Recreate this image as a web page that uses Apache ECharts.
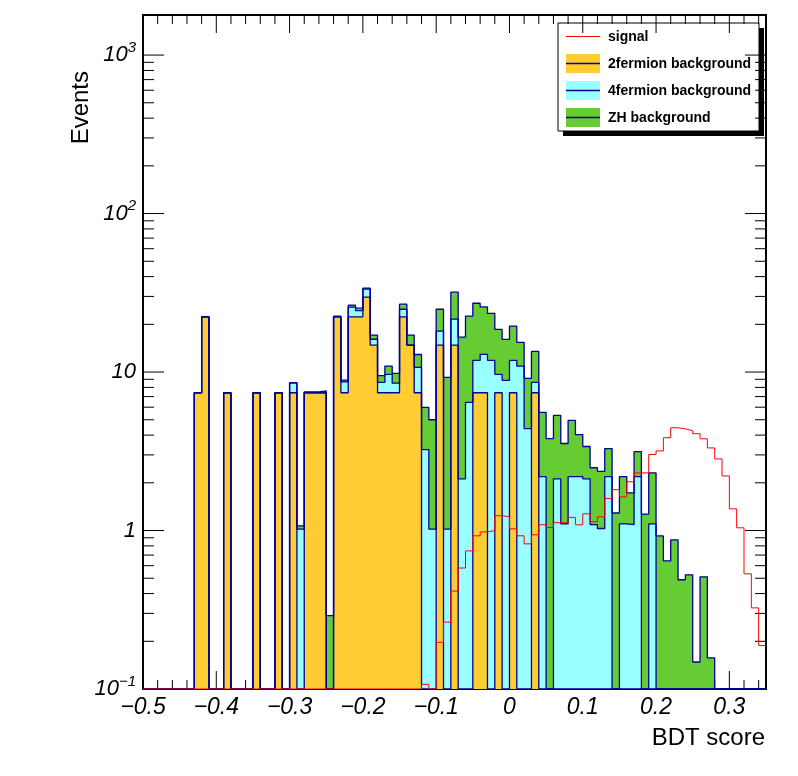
<!DOCTYPE html>
<html><head><meta charset="utf-8">
<script src="https://cdn.jsdelivr.net/npm/echarts@6/dist/echarts.min.js"></script>
<style>html,body{margin:0;padding:0;background:#fff}#chart{width:798px;height:776px}</style>
</head><body><div id="chart"></div>
<script>
// ---- binning (BDT score) ----
const BIN_LOW = -0.5;
const BIN_WIDTH = 0.01;
const N_BINS = 85;

// ---- series values per bin (events) ----
const twoFermion = [
  0,0,0,0,0,0,0,7.4,22.3,0,
  0,7.4,0,0,0,7.4,0,0,7.4,0,
  7.4,0,7.4,7.4,7.4,0,22.3,7.4,22.3,22.3,
  29.7,14.8,7.4,7.4,7.4,22.3,14.8,7.4,0,0,
  14.8,0,14.8,0,0,7.4,7.4,0,7.4,0,
  7.4,0,0,7.4,0,0,0,0,0,0,
  0,0,0,0,0,0,0,0,0,0,
  0,0,0,0,0,0,0,0,0,0,
  0,0,0,0,0
];
const fourFermion = [
  0,0,0,0,0,0,0,0,0,0,
  0,0,0,0,0,0,0,0,0,0,
  1.15,1.02,0,0,0,0,0,1.28,3.4,2.1,
  3.7,1.3,1.2,2.27,1.1,2.6,0,3.3,3.24,1.02,
  3.3,1.02,6.8,2.12,6.43,4.46,5.54,11.86,2.27,8.86,
  4.46,10.9,4.4,1.2,2.19,0,2.12,1.1,2.19,2.19,
  2.12,1.09,1.03,2.19,0,1.1,1.09,2.19,0,1.1,
  0,0,0,0,0,0,0,0,0,0,
  0,0,0,0,0
];
const zhBackground = [
  0,0,0,0,0,0,0,0,0,0,
  0,0,0,0,0,0,0,0,0,0,
  0,0.05,0.1,0.1,0.2,0.29,0.2,0.22,0.7,0.9,
  0.4,1.0,0.9,1.23,1.3,1.9,2.3,2.2,2.74,3.98,
  6.8,8.23,10.3,14.5,16.1,15.3,12.8,11.6,8.9,7.2,
  7.6,4.5,4.72,4.9,3.37,3.8,3.2,2.44,2.76,1.84,
  1.27,1.4,1.33,1.1,1.29,1.09,0.64,0.96,1.27,1.21,
  0.925,0.644,0.874,0.489,0.525,0.148,0.51,0.157,0,0,
  0,0,0,0,0
];
const signal = [
  0,0,0,0,0,0,0,0,0,0,
  0,0,0,0,0,0,0,0,0,0,
  0,0,0,0,0,0,0,0,0,0,
  0,0,0,0,0,0,0,0,0.107,0,
  0.197,0.264,0.415,0.58,0.744,0.926,0.98,1.0,1.24,1.22,
  1.025,0.926,0.824,0.94,1.087,1.045,1.12,1.12,1.21,1.087,
  1.275,1.135,1.22,1.59,1.81,1.63,2.03,2.31,2.31,3.02,
  3.18,3.85,4.45,4.38,4.26,4.08,3.79,3.32,2.83,2.21,
  1.37,1.04,0.533,0.325,0.188
];

// ---- axes ----
const X_MIN = -0.5, X_MAX = 0.35, X_STEP = 0.1;
const Y_MIN = 0.1, Y_MAX = 1790;
const xTickLabels = ['\u22120.5','\u22120.4','\u22120.3','\u22120.2','\u22120.1','0','0.1','0.2','0.3'];
const yTickExponents = [-1, 0, 1, 2, 3];
const legendLabels = ['signal', '2fermion background', '4fermion background', 'ZH background'];

const C_YELLOW = '#ffcc33', C_CYAN = '#99ffff', C_GREEN = '#66cc33', C_BLUE = '#000099', C_RED = '#ff0000';
const FONT = '"Liberation Sans", Arial, Helvetica, sans-serif';

function edge(i) { return BIN_LOW + i * BIN_WIDTH; }
function stepData(vals) {
  const pts = vals.map((v, i) => [edge(i), Math.max(v, Y_MIN)]);
  pts.push([edge(N_BINS), Math.max(vals[N_BINS - 1], Y_MIN)]);
  return pts;
}
const cum1 = twoFermion.slice();
const cum2 = twoFermion.map((v, i) => v + fourFermion[i]);
const cum3 = cum2.map((v, i) => v + zhBackground[i]);

// tick descriptors: [x, y, kind]  kind 0 x-major, 1 x-minor, 2 y-major, 3 y-minor, 4 frame
const tickItems = [[0, 1, 4]];
for (let k = 0; k <= 42; k++) {
  const v = X_MIN + 0.02 * k;
  tickItems.push([v, 1, k % 5 === 0 ? 0 : 1]);
}
yTickExponents.forEach(e => {
  const base = Math.pow(10, e);
  tickItems.push([X_MIN, base, 2]);
  for (let m = 2; m <= 9; m++) {
    if (m * base <= Y_MAX) tickItems.push([X_MIN, m * base, 3]);
  }
});

function histSeries(name, vals, fill) {
  return {
    name, type: 'line', step: 'end', data: stepData(vals),
    symbol: 'none', showSymbol: false, silent: true, animation: false,
    lineStyle: { color: C_BLUE, width: 1.3 },
    areaStyle: fill ? { color: fill, opacity: 1, origin: 'start' } : undefined
  };
}

const chart = echarts.init(document.getElementById('chart'), null, { renderer: 'canvas' });
chart.setOption({
  animation: false,
  backgroundColor: '#ffffff',
  grid: { left: 143, right: 32, top: 15, bottom: 87, outerBoundsMode: 'none', containLabel: false },
  xAxis: {
    type: 'value', min: X_MIN, max: X_MAX, interval: X_STEP,
    axisLine: { show: false }, axisTick: { show: false }, splitLine: { show: false },
    axisLabel: {
      margin: 7, color: '#000', fontSize: 23, fontStyle: 'italic', fontFamily: FONT,
      formatter: v => {
        const idx = Math.round((v - X_MIN) / X_STEP);
        if (Math.abs((v - X_MIN) / X_STEP - idx) > 1e-6) return '';
        return xTickLabels[idx] || '';
      }
    }
  },
  yAxis: {
    type: 'log', logBase: 10, min: Y_MIN, max: Y_MAX,
    axisLine: { show: false }, axisTick: { show: false }, splitLine: { show: false },
    minorTick: { show: false }, minorSplitLine: { show: false },
    axisLabel: {
      margin: 7, color: '#000', fontFamily: FONT,
      formatter: v => {
        const e = Math.round(Math.log10(v));
        if (Math.abs(Math.log10(v) - e) > 1e-6 || yTickExponents.indexOf(e) < 0) return '';
        if (e === 0) return '{n|1}';
        if (e === 1) return '{n|10}';
        return '{n|10}{s|' + (e < 0 ? '\u2212' + (-e) : e) + '}';
      },
      rich: {
        n: { fontSize: 22, fontStyle: 'italic', fontFamily: FONT, color: '#000', lineHeight: 30 },
        s: { fontSize: 15, fontStyle: 'italic', fontFamily: FONT, color: '#000', lineHeight: 15, verticalAlign: 'top' }
      }
    }
  },
  series: [
    {
      type: 'custom', silent: true, animation: false, clip: false,
      data: tickItems, encode: { x: 0, y: 1 },
      renderItem: (params, api) => {
        const cs = params.coordSys;
        const kind = api.value(2);
        const st = { stroke: '#000', lineWidth: 1 };
        if (kind === 4) {
          return { type: 'rect', shape: { x: cs.x, y: cs.y, width: cs.width, height: cs.height },
                   style: { fill: 'none', stroke: '#000', lineWidth: 2 } };
        }
        if (kind <= 1) {
          const px = api.coord([api.value(0), 1])[0];
          const L = kind === 0 ? 18 : 9;
          const b = cs.y + cs.height, t = cs.y;
          return { type: 'group', children: [
            { type: 'line', shape: { x1: px, y1: b, x2: px, y2: b - L }, style: st },
            { type: 'line', shape: { x1: px, y1: t, x2: px, y2: t + L }, style: st }
          ] };
        }
        const py = api.coord([X_MIN, api.value(1)])[1];
        const L = kind === 2 ? 21 : 11;
        const l = cs.x, r = cs.x + cs.width;
        return { type: 'group', children: [
          { type: 'line', shape: { x1: l, y1: py, x2: l + L, y2: py }, style: st },
          { type: 'line', shape: { x1: r, y1: py, x2: r - L, y2: py }, style: st }
        ] };
      }
    },
    histSeries('ZH background', cum3, C_GREEN),
    histSeries('4fermion background', cum2, C_CYAN),
    histSeries('2fermion background', cum1, C_YELLOW),
    {
      name: 'signal', type: 'line', step: 'end', data: stepData(signal),
      symbol: 'none', showSymbol: false, silent: true, animation: false,
      lineStyle: { color: C_RED, width: 1 }
    }
  ],
  graphic: [
    { type: 'text', x: 81, y: 71, rotation: Math.PI / 2, z: 100,
      style: { text: 'Events', font: '24px ' + FONT, fill: '#000', align: 'right', verticalAlign: 'middle' } },
    { type: 'text', x: 765, y: 738, z: 100,
      style: { text: 'BDT score', font: '24px ' + FONT, fill: '#000', align: 'right', verticalAlign: 'middle' } },
    { type: 'group', z: 100, children: [
      { type: 'rect', shape: { x: 563, y: 28, width: 201, height: 108 }, style: { fill: '#000' } },
      { type: 'rect', shape: { x: 558, y: 23, width: 201, height: 108 }, style: { fill: '#fff', stroke: '#000', lineWidth: 1 } },
      { type: 'line', shape: { x1: 566, y1: 36.5, x2: 600, y2: 36.5 }, style: { stroke: C_RED, lineWidth: 1 } },
      { type: 'rect', shape: { x: 566, y: 54, width: 34, height: 19 }, style: { fill: C_YELLOW } },
      { type: 'line', shape: { x1: 566, y1: 63.5, x2: 600, y2: 63.5 }, style: { stroke: C_BLUE, lineWidth: 1.3 } },
      { type: 'rect', shape: { x: 566, y: 81, width: 34, height: 19 }, style: { fill: C_CYAN } },
      { type: 'line', shape: { x1: 566, y1: 90.5, x2: 600, y2: 90.5 }, style: { stroke: C_BLUE, lineWidth: 1.3 } },
      { type: 'rect', shape: { x: 566, y: 108, width: 34, height: 19 }, style: { fill: C_GREEN } },
      { type: 'line', shape: { x1: 566, y1: 117.5, x2: 600, y2: 117.5 }, style: { stroke: C_BLUE, lineWidth: 1.3 } },
      { type: 'text', x: 608, y: 37, style: { text: legendLabels[0], font: 'bold 14px ' + FONT, fill: '#000', verticalAlign: 'middle' } },
      { type: 'text', x: 608, y: 64, style: { text: legendLabels[1], font: 'bold 14px ' + FONT, fill: '#000', verticalAlign: 'middle' } },
      { type: 'text', x: 608, y: 91, style: { text: legendLabels[2], font: 'bold 14px ' + FONT, fill: '#000', verticalAlign: 'middle' } },
      { type: 'text', x: 608, y: 118, style: { text: legendLabels[3], font: 'bold 14px ' + FONT, fill: '#000', verticalAlign: 'middle' } }
    ] }
  ]
});
</script></body></html>
